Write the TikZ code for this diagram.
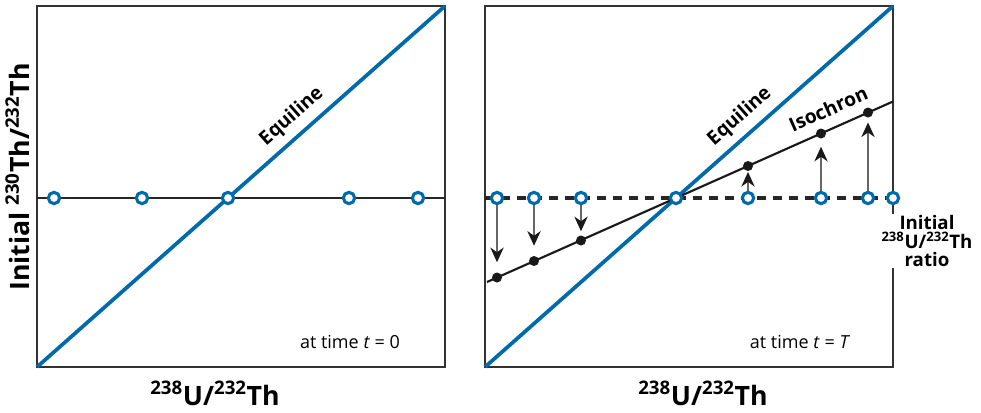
\documentclass[tikz,border=0pt]{standalone}
\usepackage{fontspec}
\setmainfont{Open Sans}
\usetikzlibrary{arrows.meta}

\definecolor{eqblue}{RGB}{0,106,170}

\begin{document}
\begin{tikzpicture}[
    x=0.75pt, y=-0.75pt,
    frame/.style={draw=black!80, line width=1.1pt},
    equi/.style ={draw=eqblue, line width=2.8pt},
    flat/.style ={draw=black!85, line width=2pt},
    iso/.style  ={draw=black!90, line width=1.6pt},
    open/.style ={circle, draw=eqblue, fill=white, line width=2.3pt,
                  minimum size=8.5pt, inner sep=0pt},
    dot/.style  ={circle, fill=black!90, minimum size=7.5pt, inner sep=0pt},
    move/.style ={draw=black!60, line width=1.1pt, shorten >=0.5pt,
                  -{Stealth[length=11pt, width=10pt, inset=3.5pt, color=black!90]}},
    axis/.style ={font=\bfseries\fontsize{20}{22}\selectfont},
    tag/.style  ={font=\bfseries\fontsize{14}{14}\selectfont},
    lbl/.style  ={font=\bfseries\fontsize{14.5}{15}\selectfont, sloped, above=2pt},
    note/.style ={font=\fontsize{13.5}{15}\selectfont},
]
\useasboundingbox (0,0) rectangle (981,412);

% left panel, t = 0
\coordinate (lbl) at (37,367);
\coordinate (ltr) at (445,6);
\coordinate (lml) at (37,198);
\coordinate (lmr) at (445,198);
\draw[frame] (lbl) rectangle (ltr);
\draw[flat]  (lml) -- (lmr);
\draw[equi]  (lbl) -- (ltr) node[lbl, pos=0.655, text=black] (eqA) {Equiline};

\node[open] (a1) at (54,198)  {};
\node[open] (a2) at (142,198) {};
\node[open] (a3) at (228,198) {};
\node[open] (a4) at (349,198) {};
\node[open] (a5) at (418,198) {};

\node[note, anchor=base] (timeA) at (350,348) {at time \textit{t} = 0};
\node[axis, anchor=base] (xA) at (215,405) {\textsuperscript{238}U/\textsuperscript{232}Th};
\node[axis, rotate=90, anchor=base] (yA) at (29,177) {Initial \textsuperscript{230}Th/\textsuperscript{232}Th};

% right panel, t = T
\coordinate (rbl) at (485,367);
\coordinate (rtr) at (893,6);
\coordinate (rml) at (485,198);
\coordinate (rmr) at (893,198);
\coordinate (isl) at (487,282);
\coordinate (isr) at (893,101.5);
\draw[frame] (rbl) rectangle (rtr);
\draw[flat, line width=2.3pt, dash pattern=on 7pt off 5pt] (rml) -- (rmr);
\draw[equi] (rbl) -- (rtr) node[lbl, pos=0.655, text=black] (eqB) {Equiline};
\draw[iso]  (isl) -- (isr) node[lbl, pos=0.86, above=3pt] (isoB) {Isochron};

\node[open] (b1) at (497,198) {};
\node[open] (b2) at (534,198) {};
\node[open] (b3) at (581,198) {};
\node[open] (b4) at (676,198) {};
\node[open] (b5) at (748,198) {};
\node[open] (b6) at (821,198) {};
\node[open] (b7) at (868,198) {};
\node[open] (b8) at (893,198) {};

\node[dot] (d1) at (497,277.5) {};
\node[dot] (d2) at (534,261)   {};
\node[dot] (d3) at (581,240.5) {};
\node[dot] (d5) at (748,166)   {};
\node[dot] (d6) at (821,133.5) {};
\node[dot] (d7) at (868,112.5) {};

\draw[move, shorten >=7.5pt] (b1) -- (d1);
\draw[move, shorten >=7.5pt] (b2) -- (d2);
\draw[move, shorten >=3pt]   (b3) -- (d3);
\draw[move]                  (b5) -- (d5);
\draw[move, shorten >=6pt]   (b6) -- (d6);
\draw[move, shorten >=3.5pt] (b7) -- (d7);

\node[tag, fill=white, align=center, inner sep=1pt] (ratio) at (927,241)
      {Initial\\\textsuperscript{238}U/\textsuperscript{232}Th\\ratio};

\node[note, anchor=base] (timeB) at (800,348) {at time \textit{t} = \textit{T}};
\node[axis, anchor=base] (xB) at (703,405) {\textsuperscript{238}U/\textsuperscript{232}Th};

\end{tikzpicture}
\end{document}
